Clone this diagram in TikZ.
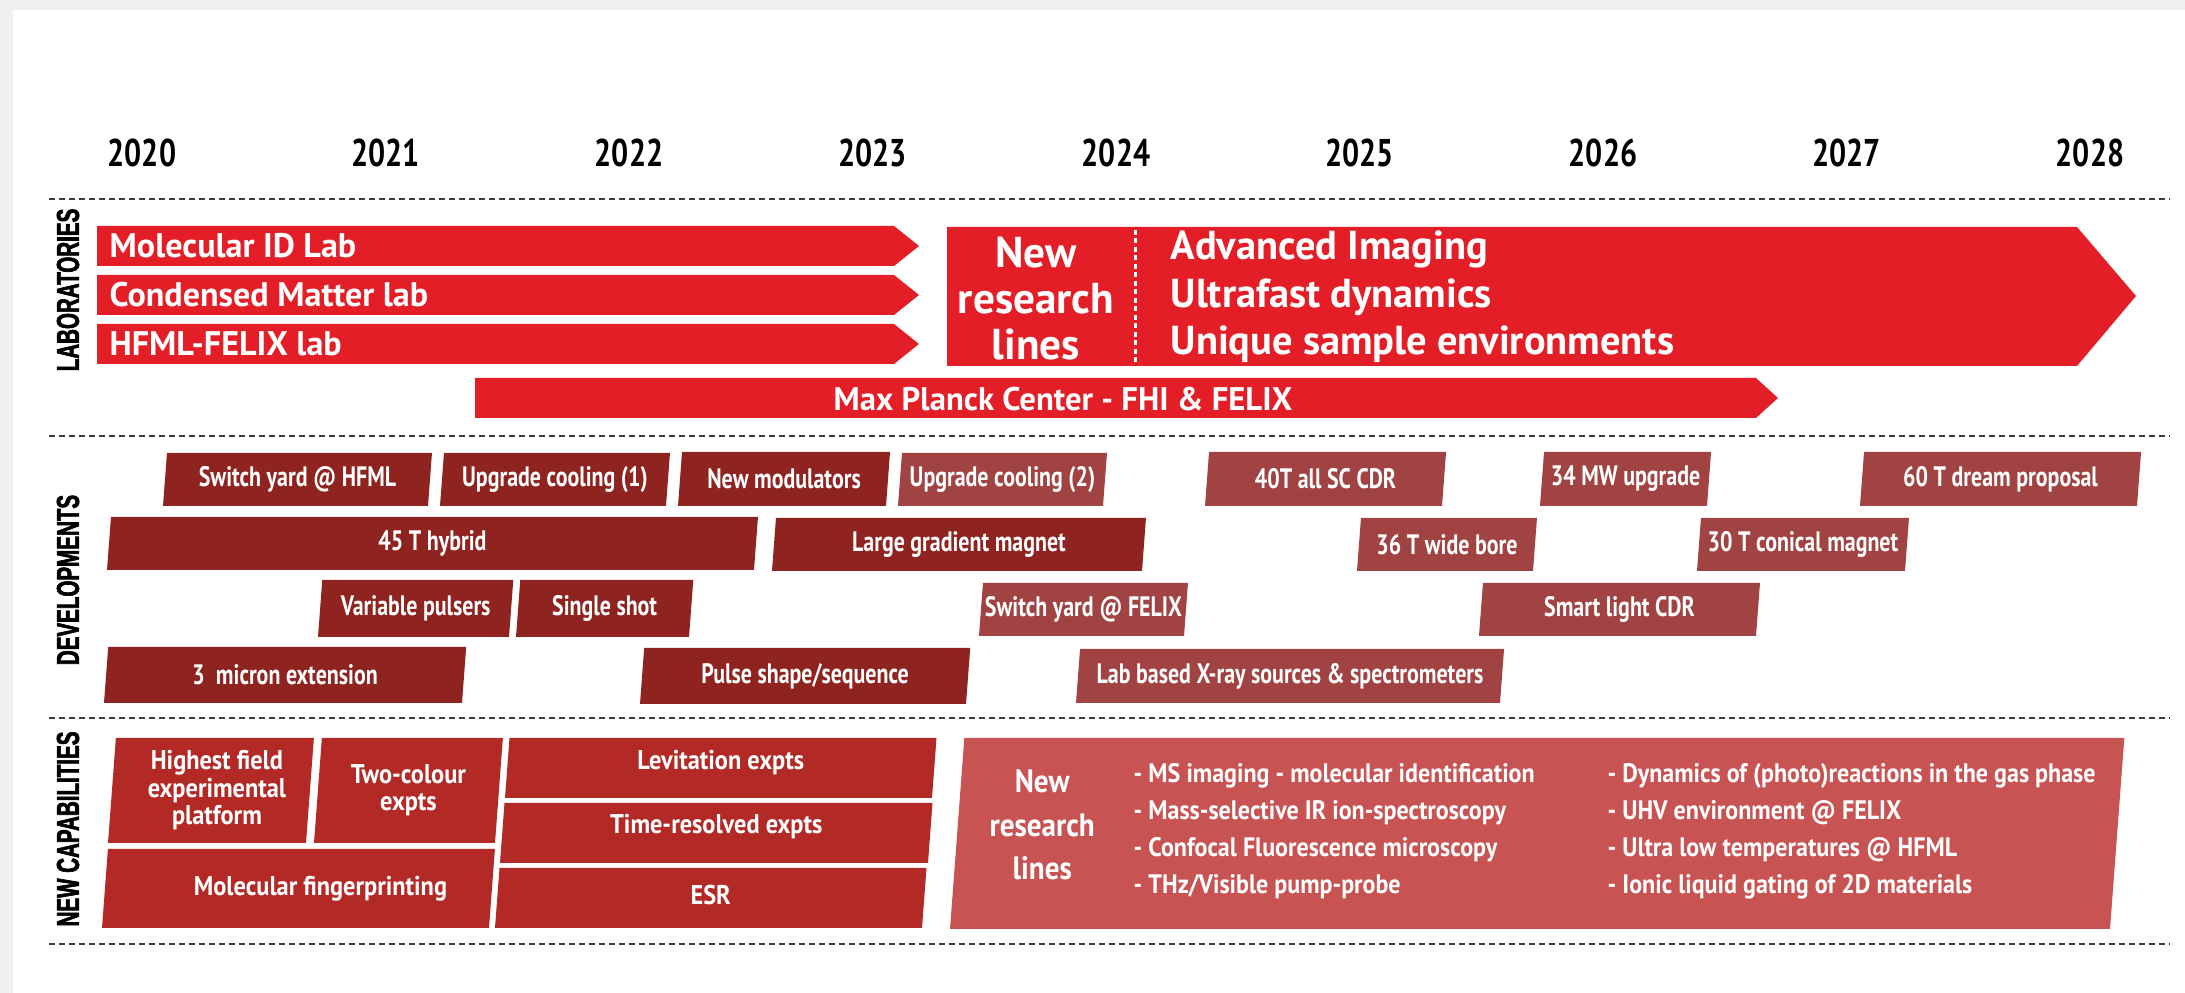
\documentclass[tikz,border=0pt]{standalone}
\usepackage{fontspec}
\setmainfont{PT Sans}
\newfontfamily\condfont[FakeStretch = 0.78]{PT Sans}
\newfontfamily\semifont[FakeStretch = 0.9]{PT Sans}
\newfontfamily\capsfont[FakeStretch = 0.65, FakeBold = 2]{Liberation Sans}

\definecolor{labred}{RGB}{227,30,39}
\definecolor{devdark}{RGB}{142,35,31}
\definecolor{devlight}{RGB}{160,67,66}
\definecolor{capdark}{RGB}{179,41,38}
\definecolor{caplight}{RGB}{200,83,83}
\definecolor{rulegray}{RGB}{60,60,60}
\definecolor{framegray}{RGB}{240,240,240}

% name, fill colour, text style, bottom-left x, bottom-right x, top y, bottom y, text
\newcommand{\slantbox}[8]{%
  \fill [#2] (#4, #7) -- (#5, #7) -- ({#5 + 0.075*(#7 - #6)}, #6)
    -- ({#4 + 0.075*(#7 - #6)}, #6) -- cycle;
  \node [#3] (#1) at ({(#4 + #5)/2 + 0.0375*(#7 - #6)}, {(#6 + #7)/2}) {#8};
}

\begin{document}
\begin{tikzpicture}[x = 0.1mm, y = -0.1mm,
    year/.style = {inner sep = 0, font = \condfont\bfseries\fontsize{11}{13}\selectfont},
    rule/.style = {rulegray, line width = 0.22mm, dash pattern = on 0.6mm off 0.4mm},
    section/.style = {rotate = 90, inner sep = 0, font = \capsfont\bfseries\fontsize{9}{10}\selectfont},
    labtext/.style = {white, inner sep = 0, anchor = west, font = \bfseries\fontsize{9.7}{12}\selectfont},
    linetext/.style = {white, inner sep = 0, anchor = west, font = \bfseries\fontsize{11.5}{13}\selectfont},
    devtext/.style = {white, inner sep = 0, font = \condfont\bfseries\fontsize{8}{9}\selectfont},
    captext/.style = {white, inner sep = 0, align = center, font = \semifont\bfseries\fontsize{7.7}{7.8}\selectfont},
    bullet/.style = {white, inner sep = 0, anchor = west, font = \semifont\bfseries\fontsize{7.6}{9}\selectfont}]

  \useasboundingbox (0, 0) rectangle (2185, 993);
  \fill [framegray] (0, 0) rectangle (2185, 993);
  \fill [white] (13, 10) rectangle (2185, 993);

  \foreach \yr [count = \i from 0] in {2020,...,2028}
    \node [year] (y\yr) at (142 + 243.5*\i, 153) {\yr};

  \foreach \y in {199, 436, 718, 944}
    \draw [rule] (49, \y) -- (2170, \y);

  \node [section] (labs) at (68, 290) {LABORATORIES};
  \node [section] (devs) at (68, 580) {DEVELOPMENTS};
  \node [section] (caps) at (68, 829) {NEW CAPABILITIES};

  % laboratories
  \foreach \y/\lab/\txt in {226/molid/Molecular ID Lab, 275/condmat/Condensed Matter lab, 324/hfmlfelix/HFML-FELIX lab} {
    \fill [labred] (97, \y) -- (894, \y) -- (919, \y + 20) -- (894, \y + 40) -- (97, \y + 40) -- cycle;
    \node [labtext] (\lab) at (109, \y + 20) {\txt};
  }
  \fill [labred] (947, 227) -- (2077, 227) -- (2136, 296) -- (2077, 366) -- (947, 366) -- cycle;
  \draw [white, line width = 0.3mm, dash pattern = on 0.5mm off 0.35mm] (1135, 230) -- (1135, 365);
  \node [white, align = center, font = \bfseries\fontsize{12.3}{13.1}\selectfont] (newlines) at (1036, 299) {New\\research\\lines};
  \node [linetext] (imaging) at (1170, 249) {Advanced Imaging};
  \node [linetext] (ultrafast) at (1170, 297) {Ultrafast dynamics};
  \node [linetext] (unique) at (1170, 344) {Unique sample environments};
  \fill [labred] (475, 378) -- (1756, 378) -- (1778, 398) -- (1756, 418) -- (475, 418) -- cycle;
  \node [white, font = \bfseries\fontsize{9.3}{12}\selectfont] (mpc) at (1063, 399) {Max Planck Center - FHI \& FELIX};

  % developments
  \slantbox{swhfml}{devdark}{devtext}{163}{428}{453}{506}{Switch yard @ HFML}
  \slantbox{cool1}{devdark}{devtext}{440}{666}{453}{506}{Upgrade cooling (1)}
  \slantbox{modul}{devdark}{devtext}{678}{886}{452}{506}{New modulators}
  \slantbox{cool2}{devlight}{devtext}{898}{1103}{453}{506}{Upgrade cooling (2)}
  \slantbox{sccdr}{devlight}{devtext}{1205}{1442}{452}{506}{40T all SC CDR}
  \slantbox{mwup}{devlight}{devtext}{1540}{1707}{452}{506}{34 MW upgrade}
  \slantbox{dream}{devlight}{devtext}{1860}{2137}{452}{506}{60 T dream proposal}

  \slantbox{hybrid}{devdark}{devtext}{107}{754}{517}{570}{45 T hybrid}
  \slantbox{gradient}{devdark}{devtext}{772}{1142}{518}{571}{Large gradient magnet}
  \slantbox{widebore}{devlight}{devtext}{1357}{1533}{518}{571}{36 T wide bore}
  \slantbox{conical}{devlight}{devtext}{1697}{1905}{518}{571}{30 T conical magnet}

  \slantbox{pulsers}{devdark}{devtext}{318}{509}{580}{637}{Variable pulsers}
  \slantbox{single}{devdark}{devtext}{516}{689}{580}{637}{Single shot}
  \slantbox{swfelix}{devlight}{devtext}{979}{1184}{583}{636}{Switch yard @ FELIX}
  \slantbox{smart}{devlight}{devtext}{1479}{1756}{583}{636}{Smart light CDR}

  \slantbox{micron}{devdark}{devtext}{104}{462}{647}{703}{3~~micron extension}
  \slantbox{pulse}{devdark}{devtext}{640}{966}{648}{704}{Pulse shape/sequence}
  \slantbox{xray}{devlight}{devtext}{1076}{1500}{649}{703}{Lab based X-ray sources \& spectrometers}

  % new capabilities
  \slantbox{highest}{capdark}{captext, xshift = 0.6mm}{108}{306}{738}{843}{Highest field\\experimental\\platform}
  \slantbox{twocol}{capdark}{captext}{314}{495}{738}{843}{Two-colour\\expts}
  \slantbox{finger}{capdark}{captext, xshift = 2.2mm}{102}{489}{849}{928}{Molecular fingerprinting}
  \slantbox{levit}{capdark}{captext, yshift = 0.5mm}{505}{932}{738}{798}{Levitation expts}
  \slantbox{timeres}{capdark}{captext, yshift = 0.6mm}{500}{928}{803}{863}{Time-resolved expts}
  \slantbox{esr}{capdark}{captext, yshift = 0.3mm}{495}{922}{868}{928}{ESR}
  \slantbox{research}{caplight}{white, align = center, xshift = -49.5mm, yshift = 0.85mm, font = \semifont\bfseries\fontsize{9.2}{12.3}\selectfont}{950}{2110}{738}{929}{New\\research\\lines}

  \node [bullet] (msimg) at (1133, 776) {- MS imaging - molecular identification};
  \node [bullet] (irion) at (1133, 813) {- Mass-selective IR ion-spectroscopy};
  \node [bullet] (confocal) at (1133, 850) {- Confocal Fluorescence microscopy};
  \node [bullet] (pumpprobe) at (1133, 887) {- THz/Visible pump-probe};
  \node [bullet] (dynamics) at (1607, 776) {- Dynamics of (photo)reactions in the gas phase};
  \node [bullet] (uhv) at (1607, 813) {- UHV environment @ FELIX};
  \node [bullet] (lowtemp) at (1607, 850) {- Ultra low temperatures @ HFML};
  \node [bullet] (ionic) at (1607, 887) {- Ionic liquid gating of 2D materials};
\end{tikzpicture}
\end{document}
